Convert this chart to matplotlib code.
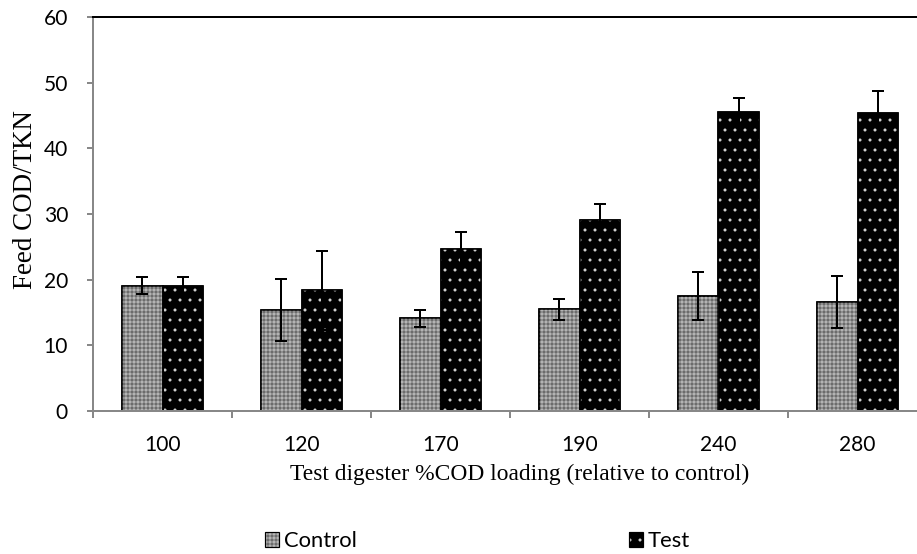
import matplotlib
matplotlib.use("Agg")
import matplotlib.pyplot as plt
import numpy as np
from matplotlib.patches import Patch
from matplotlib.legend_handler import HandlerTuple

categories = ["100", "120", "170", "190", "240", "280"]
control = [19.1, 15.4, 14.1, 15.5, 17.5, 16.6]
control_err = [1.3, 4.7, 1.3, 1.6, 3.6, 4.0]
test = [19.0, 18.4, 24.6, 29.1, 45.6, 45.4]
test_err = [1.4, 6.0, 2.6, 2.4, 2.0, 3.3]

W, H = 917, 554
DPI = 120


def P(px):
    """pixels -> points at the figure dpi"""
    return px * 72.0 / DPI


plt.rcParams['hatch.linewidth'] = P(1.0)

fig = plt.figure(figsize=(W / DPI, H / DPI), dpi=DPI)
left, right, bottom, top = 93, 927, 411, 17
ax = fig.add_axes([left / W, 1 - bottom / H, (right - left) / W, (bottom - top) / H])

x = np.arange(len(categories))
bw = 0.29
CTRL_FACE = "#6c6c6c"
CTRL_HATCH = "#b4b4b4"
TEST_HATCH = "#d8d8d8"

# control bars
ax.bar(x - bw / 2, control, bw, color=CTRL_FACE, edgecolor="black", linewidth=P(1.5), zorder=2)
ax.bar(x - bw / 2, control, bw, color="none", edgecolor=CTRL_HATCH, hatch="+++++", linewidth=0, zorder=2.1)
ax.bar(x - bw / 2, control, bw, color="none", edgecolor="black", linewidth=P(1.5), zorder=2.2)
# test bars
ax.bar(x + bw / 2, test, bw, color="black", edgecolor="black", linewidth=P(1.5), zorder=2)
ax.bar(x + bw / 2, test, bw, color="none", edgecolor=TEST_HATCH, hatch="..", linewidth=0, zorder=2.1)
ax.bar(x + bw / 2, test, bw, color="none", edgecolor="black", linewidth=P(1.5), zorder=2.2)

ax.errorbar(x - bw / 2, control, yerr=control_err, fmt="none", ecolor="black",
            elinewidth=P(2), capsize=P(6), capthick=P(2), zorder=3)
ax.errorbar(x + bw / 2, test, yerr=test_err, fmt="none", ecolor="black",
            elinewidth=P(2), capsize=P(6), capthick=P(2), zorder=3)

ax.set_xlim(-0.5, len(categories) - 0.5)
ax.set_ylim(0, 60)
ax.set_yticks(range(0, 61, 10))
ax.set_xticks(x)
ax.set_xticklabels(categories)
ax.set_xticks(np.arange(-0.5, len(categories), 1), minor=True)
ax.tick_params(axis="x", which="major", length=0, pad=P(24), labelsize=P(21))
ax.tick_params(axis="x", which="minor", length=P(7), width=P(2), color="#888888", direction="out")
ax.tick_params(axis="y", length=P(6), width=P(2), color="#888888", direction="out",
               labelsize=P(21), pad=P(19))
for lab in ax.get_xticklabels() + ax.get_yticklabels():
    lab.set_family("Lato")

ax.spines["right"].set_visible(False)
ax.spines["left"].set_color("#888888")
ax.spines["left"].set_linewidth(P(2))
ax.spines["bottom"].set_color("#888888")
ax.spines["bottom"].set_linewidth(P(2))
ax.spines["top"].set_color("black")
ax.spines["top"].set_linewidth(P(2))

ax.set_ylabel("Feed COD/TKN", family="Liberation Serif", fontsize=P(27), va="center", ha="center")
ax.yaxis.set_label_coords((26 - left) / (right - left), (bottom - 200) / (bottom - top))
ax.set_xlabel("Test digester %COD loading (relative to control)", family="Liberation Serif",
              fontsize=P(23.5), va="center", ha="center")
ax.xaxis.set_label_coords((520 - left) / (right - left), -(474 - bottom) / (bottom - top))

LEG_PX = 22.0
h1 = (Patch(facecolor=CTRL_FACE, edgecolor="none"),
      Patch(facecolor="none", edgecolor=CTRL_HATCH, hatch="+++++", linewidth=0),
      Patch(facecolor="none", edgecolor="black", linewidth=P(1.2)))
h2 = (Patch(facecolor="black", edgecolor="none"),
      Patch(facecolor="none", edgecolor=TEST_HATCH, hatch="..", linewidth=0),
      Patch(facecolor="none", edgecolor="black", linewidth=P(1.2)))
leg = fig.legend([h1, h2], ["Control", "Test"], loc="center left",
                 bbox_to_anchor=(265 / W, 1 - 541 / H),
                 ncol=2, frameon=False, borderpad=0, borderaxespad=0,
                 handlelength=14 / LEG_PX, handleheight=14 / LEG_PX,
                 handletextpad=5 / LEG_PX, columnspacing=272 / LEG_PX,
                 handler_map={tuple: HandlerTuple(ndivide=1, pad=0)},
                 prop={"family": "Lato", "size": P(LEG_PX)})

fig.savefig("out.png", dpi=DPI)
